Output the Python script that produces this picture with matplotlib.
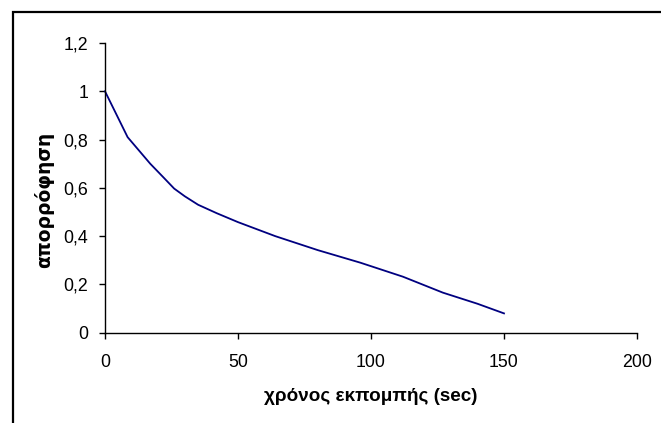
import matplotlib
matplotlib.use("Agg")
import matplotlib.pyplot as plt
from matplotlib.patches import Rectangle
from matplotlib.ticker import FuncFormatter

# Absorbance versus emission time
time_sec = [0, 8.5, 17, 22, 26, 30, 35, 42, 50, 64, 80, 96, 112, 127, 140, 150]
absorbance = [1.0, 0.81, 0.70, 0.643, 0.597, 0.565, 0.53, 0.495, 0.458, 0.40, 0.342, 0.29, 0.232, 0.166, 0.12, 0.08]

x_ticks = [0, 50, 100, 150, 200]
y_ticks = [0, 0.2, 0.4, 0.6, 0.8, 1.0, 1.2]

x_label = "χρόνος εκπομπής (sec)"
y_label = "απορρόφηση"

plt.rcParams["font.family"] = ["Liberation Sans", "DejaVu Sans"]

W, H = 661, 423
fig = plt.figure(figsize=(W / 100, H / 100), dpi=100)
fig.patch.set_facecolor("white")

# Outer chart frame
fig.add_artist(Rectangle((12.5 / W, -0.2), 2.0, 1.2 - 12 / H,
                         transform=fig.transFigure, fill=False,
                         edgecolor="black", linewidth=1.6, clip_on=False))

ax = fig.add_axes([105 / W, 1 - 332.7 / H, (637 - 105) / W, (332.7 - 43) / H])
ax.plot(time_sec, absorbance, color="#000080", linewidth=1.3, clip_on=False)

ax.set_xlim(0, 200)
ax.set_ylim(0, 1.2)
ax.set_xticks(x_ticks)
ax.set_yticks(y_ticks)

def comma_fmt(v, pos):
    s = f"{v:.1f}".rstrip("0").rstrip(".")
    return s.replace(".", ",")

ax.xaxis.set_major_formatter(FuncFormatter(comma_fmt))
ax.yaxis.set_major_formatter(FuncFormatter(comma_fmt))

for side in ("top", "right"):
    ax.spines[side].set_visible(False)
for side in ("left", "bottom"):
    ax.spines[side].set_linewidth(1.0)
    ax.spines[side].set_color("black")

ax.tick_params(axis="both", direction="out", length=4, width=1.0,
               labelsize=12.8, colors="black")
ax.tick_params(axis="x", pad=11)
ax.tick_params(axis="y", pad=8)

fig.text(371 / W, 1 - 396 / H, x_label, ha="center", va="center",
         fontsize=13.6, fontweight="bold")
fig.text(44 / W, 1 - 200 / H, y_label, ha="center", va="center",
         rotation=90, fontsize=13.5, fontweight="bold",
         family=["DejaVu Sans"])

fig.savefig("out.png", dpi=100, facecolor="white")
